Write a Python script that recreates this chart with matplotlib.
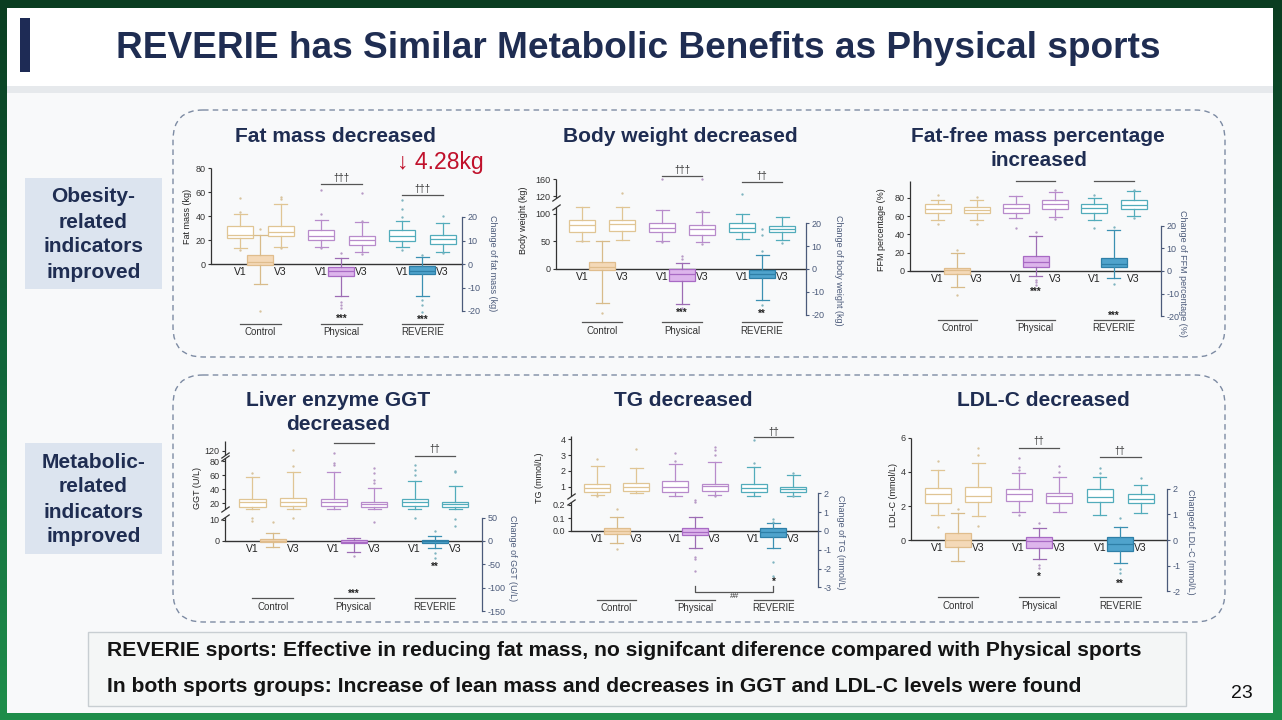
import numpy as np
import matplotlib
matplotlib.use("Agg")
import matplotlib.pyplot as plt
from matplotlib.patches import Rectangle, FancyBboxPatch
from matplotlib.colors import LinearSegmentedColormap
from matplotlib.transforms import blended_transform_factory as blend

plt.rcParams['font.family'] = ['Liberation Sans', 'DejaVu Sans']

# ---------------- data ----------------
groups = ['Control', 'Physical', 'REVERIE']
visits = ['V1', 'V3']
# box stats per group: (whisker low, Q1, median, Q3, whisker high)
fat_v1 = [(13, 22, 24, 32, 42), (14, 20, 23, 28, 37), (14, 19, 23, 28, 36)]
fat_v1_out = [[55, 43, 12], [62, 42, 13], [53, 46, 39, 12]]
fat_v3 = [(14, 23, 27, 32, 50), (10, 16, 20, 23, 35), (10, 17, 21, 24, 34)]
fat_v3_out = [[56, 54, 13], [59, 36, 8], [40, 9]]
fat_chg = [(-8.7, -0.5, 1, 3.8, 12.3), (-13.6, -5.1, -2.8, -1.1, 2.4), (-13.6, -4.4, -2.8, -0.9, 3.1)]
fat_chg_out = [[15, -20], [4.5, -16, -17.4, -18.9], [3.8, -15.3, -17.4, -20.3]]

bw_v1 = [(51, 67, 80, 89, 113), (51, 66, 74, 83, 107), (55, 66, 75, 84, 99)]
bw_v1_out = [[50], [48, 160], [125]]
bw_v3 = [(52, 68, 81, 89, 112), (49, 62, 72, 79, 103), (52, 66, 72, 78, 94)]
bw_v3_out = [[128], [46, 105, 160], [47]]
bw_chg = [(-15, -0.3, 1, 3, 12.1), (-15.3, -5.2, -2.2, 0, 2.8), (-13.8, -4.1, -2.2, -0.4, 6.2)]
bw_chg_out = [[-19.4], [4.3, 5.8, -17.2], [7.9, 14.7, 17.6, -15.6]]

ffm_v1 = [(55.3, 62.9, 67.3, 72.7, 77.8), (57.8, 63.6, 68.7, 73.5, 81.5), (56, 63.6, 68.7, 72.7, 79.6)]
ffm_v1_out = [[83, 51.6], [47.3], [82.5, 46.5]]
ffm_v3 = [(56, 63.6, 67, 70, 77), (59, 68, 72.7, 77, 86), (60, 68, 72.4, 77.8, 87)]
ffm_v3_out = [[80.7, 51], [88.7, 56.4], [88.7, 57.8]]
ffm_chg = [(-7, -1.2, 0.3, 1.5, 8), (-2.4, 1.8, 4, 6.5, 15.3), (-3.1, 1.8, 3.2, 5.9, 18)]
ffm_chg_out = [[9.4, -10.7], [17.2, -3.8, -5, -6.3], [19.4, -5.6]]

ggt_v1 = [(12, 15.3, 21.4, 25.7, 56.9), (12, 16.7, 21.9, 26, 64), (12, 16.2, 21.4, 25.7, 52)]
ggt_v1_out = [[62.5, 11, 9.5], [112, 76.7, 75], [74, 67, 60, 11]]
ggt_v3 = [(12, 16.2, 22.4, 27, 65), (12, 14.3, 18.6, 21.4, 41.3), (12, 14.8, 18.6, 21.4, 44.6)]
ggt_v3_out = [[125, 73, 11], [70.6, 63.5, 53, 49.3, 9], [66, 64, 10.3, 7.1]]
ggt_chg = [(-12.1, -1.4, 0.7, 3.6, 16.4), (-22.9, -5, -1.4, 1.4, 5.7), (-15.7, -3.6, -0.7, 1.4, 11.4)]
ggt_chg_out = [[41], [-31.4], [21.4, -26, -35.7]]

tg_v1 = [(0.47, 0.68, 0.89, 1.15, 2.33), (0.41, 0.68, 1.0, 1.38, 2.46), (0.41, 0.64, 0.89, 1.19, 2.23)]
tg_v1_out = [[2.75, 0.41], [3.1, 2.6], [3.94, 2.52]]
tg_v3 = [(0.58, 0.73, 1.0, 1.21, 2.16), (0.47, 0.73, 1.06, 1.17, 2.58), (0.41, 0.64, 0.83, 0.96, 1.74)]
tg_v3_out = [[3.39], [3.54, 3.33, 3.0, 0.41], [1.85, 0.41]]
tg_chg = [(-0.62, -0.16, 0, 0.18, 0.76), (-0.88, -0.21, -0.04, 0.18, 0.73), (-0.92, -0.34, -0.04, 0.14, 0.41)]
tg_chg_out = [[1.15, -0.97], [1.65, 1.52, -1.36, -1.49, -2.12], [0.62, 0.5, -1.63, -2.42]]

ldl_v1 = [(1.47, 2.16, 2.71, 3.08, 4.12), (1.63, 2.31, 2.71, 2.98, 3.92), (1.47, 2.25, 2.55, 3.0, 3.73)]
ldl_v1_out = [[4.65, 0.78], [4.8, 4.31, 4.12, 1.47], [4.22, 3.92]]
ldl_v3 = [(1.41, 2.22, 2.61, 3.1, 4.55), (1.63, 2.16, 2.59, 2.78, 3.69), (1.57, 2.16, 2.41, 2.71, 3.24)]
ldl_v3_out = [[5.39, 5.0, 0.82], [4.35, 3.98], [3.63]]
ldl_chg = [(-0.82, -0.26, 0, 0.29, 1.04), (-0.75, -0.32, -0.03, 0.13, 0.45), (-0.91, -0.42, -0.17, 0.13, 0.52)]
ldl_chg_out = [[1.21], [0.65, -0.97, -1.1], [0.87, -1.14, -1.3]]

# significance marks (None = no bracket, '' = bracket without text)
fat_within = [None, '†††', '†††']
fat_stars = ['', '***', '***']
bw_within = [None, '†††', '††']
bw_stars = ['', '***', '**']
ffm_within = [None, '', '']
ffm_stars = ['', '***', '***']
ggt_within = [None, '', '††']
ggt_stars = ['', '***', '**']
tg_within = [None, None, '††']
tg_stars = ['', '', '*']
ldl_within = [None, '††', '††']
ldl_stars = ['', '*', '**']

# ---------------- figure ----------------
W, H = 1282, 720
fig = plt.figure(figsize=(W / 100, H / 100), dpi=100)
R = fig.canvas.get_renderer()
bg = fig.add_axes([0, 0, 1, 1], zorder=0)
cm = LinearSegmentedColormap.from_list('g', ['#0a3d21', '#11653a', '#1f8e4b'])
bg.imshow(np.linspace(0, 1, 256)[:, None], extent=[0, W, H, 0], aspect='auto', cmap=cm, zorder=0)
bg.set_xlim(0, W)
bg.set_ylim(H, 0)
bg.axis('off')

navy = '#1f2d52'
bg.add_patch(Rectangle((7, 8), 1266, 705, fc='white', ec='none', zorder=1))
bg.add_patch(Rectangle((7, 93), 1266, 620, fc='#f8f9fa', ec='none', zorder=1))
bg.add_patch(Rectangle((7, 86), 1266, 7, fc='#e6e9ec', ec='none', zorder=1))
bg.add_patch(Rectangle((20, 18), 10, 54, fc='#1e2b55', ec='none', zorder=2))


def fit(t, width):
    w = t.get_window_extent(R).width
    t.set_fontsize(t.get_fontsize() * width / w)
    return t


fit(bg.text(638, 48, 'REVERIE has Similar Metabolic Benefits as Physical sports', ha='center', va='center',
            fontsize=20, fontweight='bold', color=navy, zorder=3), 1040)

for y0b, y1b in [(110, 357), (375, 622)]:
    bg.add_patch(FancyBboxPatch((173, y0b), 1052, y1b - y0b, boxstyle='round,pad=0,rounding_size=30',
                                fc='none', ec='#7d8ba3', lw=1, ls=(0, (4, 3)), zorder=2))

# left category boxes
for (by, lines, ys) in [(178, ['Obesity-', 'related', 'indicators', 'improved'], [197, 222, 247, 272]),
                        (443, ['Metabolic-', 'related', 'indicators', 'improved'], [462, 487, 512, 537])]:
    bg.add_patch(Rectangle((25, by), 137, 111, fc='#dce4ef', ec='none', zorder=2))
    tt = bg.text(93.5, ys[2], 'indicators', ha='center', va='center', fontsize=14, fontweight='bold',
                 color=navy, zorder=3)
    fit(tt, 100)
    fs = tt.get_fontsize()
    for s, yy in zip(lines, ys):
        if s != 'indicators':
            bg.text(93.5, yy, s, ha='center', va='center', fontsize=fs, fontweight='bold', color=navy, zorder=3)

# panel titles
for s, cx, cy, w in [('Fat mass decreased', 335.5, 136, 201), ('Body weight decreased', 680, 136, 234),
                     ('Fat-free mass percentage', 1038, 137, 254), ('increased', 1038.5, 161, 97),
                     ('Liver enzyme GGT', 338.5, 400, 185), ('decreased', 338, 424, 104),
                     ('TG decreased', 683, 400, 138), ('LDL-C decreased', 1043.5, 400, 173)]:
    fit(bg.text(cx, cy, s, ha='center', va='center', fontsize=14, fontweight='bold', color=navy, zorder=3), w)
fit(bg.text(440, 162, '↓ 4.28kg', ha='center', va='center', fontsize=15, color='#c0112b', zorder=3), 87)

# bottom text box
bg.add_patch(Rectangle((88, 632), 1098, 74, fc='#f4f6f6', ec='#c8ced2', lw=1, zorder=2))
t1 = fit(bg.text(107, 651, 'REVERIE sports: Effective in reducing fat mass, no signifcant diference compared with Physical sports',
                 ha='left', va='center', fontsize=13, fontweight='bold', color='#141414', zorder=3), 1034)
bg.text(107, 687, 'In both sports groups: Increase of lean mass and decreases in GGT and LDL-C levels were found',
        ha='left', va='center', fontsize=t1.get_fontsize(), fontweight='bold', color='#141414', zorder=3)
bg.text(1242, 694, '23', ha='center', va='center', fontsize=14, color='#111', zorder=3)

# ---------------- panels ----------------
vcol = ['#e0c594', '#b88bcb', '#52acbb']
fcol = ['#d9c39d', '#b79ac6', '#7fb4c0']
cfill = ['#f4d9b8', '#ddb5ec', '#4fa3cc']
cedge = ['#e0bd8d', '#a86ac4', '#2e7fa7']
cline = ['#d8bb8a', '#9d6cb4', '#3a90b2']
axc = '#333333'
rc = '#4b5a7a'


def pw(x, a, b):
    x = np.asarray(x, dtype=float)
    s0 = (b[1] - b[0]) / (a[1] - a[0])
    s1 = (b[-1] - b[-2]) / (a[-1] - a[-2])
    y = np.interp(x, a, b)
    y = np.where(x < a[0], b[0] + (x - a[0]) * s0, y)
    y = np.where(x > a[-1], b[-1] + (x - a[-1]) * s1, y)
    return y


def st(t, out):
    lo, q1, med, q3, hi = t
    return dict(whislo=lo, q1=q1, med=med, q3=q3, whishi=hi, fliers=np.asarray(out, float))


def draw_panel(S, v1, v1o, v3, v3o, chg, chgo, ylab, rlab, within, stars):
    xl, xr, y0, top, bot = S['xl'], S['xr'], S['y0'], S['top'], S['bottom']
    ax = fig.add_axes([xl / W, 1 - bot / H, (xr - xl) / W, (bot - top) / H], zorder=3)
    ax.patch.set_visible(False)
    d = np.asarray(S['d'], float)
    p = np.asarray(S['p'], float)
    ax.set_yscale('function', functions=(lambda x: pw(x, d, p), lambda y: pw(y, p, d)))
    ax.set_ylim(float(pw(-(bot - y0), p, d)), float(pw(y0 - top, p, d)))
    x0, dx = S['x0'], S['dx']
    ax.set_xlim(-(x0 - xl) / dx, (xr - x0) / dx)
    ax2 = ax.twinx()
    ax2.patch.set_visible(False)
    ax2.set_ylim(-(bot - y0) / S['rppu'], (y0 - top) / S['rppu'])

    def fy(py):
        return (bot - py) / (bot - top)

    bw = 26 / dx
    for g in range(3):
        col = vcol[g]
        ax.bxp([st(v1[g], v1o[g]), st(v3[g], v3o[g])], positions=[2 * g, 2 * g + 1], widths=bw,
               patch_artist=True, manage_ticks=False, capwidths=bw * 0.5,
               boxprops=dict(facecolor='white', edgecolor=col, lw=0.9),
               whiskerprops=dict(color=col, lw=0.9), capprops=dict(color=col, lw=0.9),
               medianprops=dict(color=col, lw=0.9),
               flierprops=dict(marker='o', markersize=1.7, markerfacecolor=fcol[g], markeredgecolor='none'))
        ax2.bxp([st(chg[g], chgo[g])], positions=[2 * g + 0.5], widths=bw,
                patch_artist=True, manage_ticks=False, capwidths=bw * 0.5,
                boxprops=dict(facecolor=cfill[g], edgecolor=cedge[g], lw=0.9),
                whiskerprops=dict(color=cline[g], lw=0.9), capprops=dict(color=cline[g], lw=0.9),
                medianprops=dict(color=cedge[g], lw=0.9),
                flierprops=dict(marker='o', markersize=1.7, markerfacecolor=fcol[g], markeredgecolor='none'))

    # left axis (possibly broken)
    for sp in ['left', 'top', 'right']:
        ax.spines[sp].set_visible(False)
    ax.spines['bottom'].set_position(('data', 0))
    ax.spines['bottom'].set_color(axc)
    ax.spines['bottom'].set_linewidth(1.0)
    tr = blend(ax.transAxes, ax.transData)
    segs = S['segs']
    for a, b in segs:
        ax.plot([0, 0], [a, b], transform=tr, color=axc, lw=0.9, clip_on=False, solid_capstyle='butt')
    for i in range(len(segs) - 1):
        for yv in (segs[i][1], segs[i + 1][0]):
            ax.plot([0], [yv], transform=tr, marker=[(-1, -0.7), (1, 0.7)], ms=6, color=axc, mew=0.9,
                    clip_on=False, ls='none')
    ax.set_yticks(S['lt'])
    ax.set_yticklabels(S.get('ltl') or [str(t) for t in S['lt']])
    ax.tick_params(axis='y', which='both', direction='out', length=2.5, width=0.8, colors=axc,
                   labelsize=6.5, pad=1.5)
    ax.yaxis.set_minor_locator(matplotlib.ticker.NullLocator())
    ax.set_xticks(range(6))
    ax.set_xticklabels(visits * 3)
    ax.tick_params(axis='x', length=0, labelsize=7.5, pad=2, colors='#222')

    for sp in ['left', 'top', 'bottom']:
        ax2.spines[sp].set_visible(False)
    ax2.spines['right'].set_bounds(*S['cb'])
    ax2.spines['right'].set_color(rc)
    ax2.spines['right'].set_linewidth(0.9)
    ax2.set_yticks(S['rt'])
    ax2.set_yticklabels([str(t) for t in S['rt']])
    ax2.tick_params(axis='y', direction='out', length=2.5, width=0.8, colors=rc, labelsize=6.5, pad=1.5)

    bg.text(S['ylab'][0], S['ylab'][1], ylab, rotation=90, ha='center', va='center', fontsize=6.5,
            color='#222', zorder=3)
    bg.text(S['rlab'][0], S['rlab'][1], rlab, rotation=270, ha='center', va='center', fontsize=6.5,
            color=rc, zorder=3)

    xt = ax.get_xaxis_transform()
    for g in range(3):
        ax.plot([2 * g, 2 * g + 1], [fy(S['gline'])] * 2, transform=xt, color='#555', lw=0.9, clip_on=False)
        ax.text(2 * g + 0.5, fy(S['glab']), groups[g], transform=xt, ha='center', va='center', fontsize=7,
                color='#333')
        if within[g] is not None and S['brk'][g] is not None:
            ly, ty = S['brk'][g]
            ax.plot([2 * g, 2 * g + 1], [fy(ly)] * 2, transform=xt, color='#555', lw=0.9, clip_on=False)
            if within[g]:
                ax.text(2 * g + 0.5, fy(ty), within[g], transform=xt, ha='center', va='center', fontsize=7,
                        color='#333')
        if stars[g] and S['stars'][g] is not None:
            ax.text(2 * g + 0.5, fy(S['stars'][g]), stars[g], transform=xt, ha='center', va='center',
                    fontsize=7, fontweight='bold', color='#222')
    if 'hash' in S:
        ly, ey, ty = S['hash']
        ax.plot([2.5, 2.5, 4.5, 4.5], [fy(ey), fy(ly), fy(ly), fy(ey)], transform=xt, color='#555', lw=0.9,
                clip_on=False)
        ax.text(3.5, fy(ty), '##', transform=xt, ha='center', va='center', fontsize=6, color='#333')
    return ax, ax2


specs = [
    dict(xl=211, xr=462, y0=264, top=165, bottom=314, d=[0, 80], p=[0, 96], segs=[(0, 80)],
         lt=[0, 20, 40, 60, 80], rppu=2.35, cb=(-20, 20), rt=[-20, -10, 0, 10, 20], x0=240, dx=40.5,
         ylab=(187, 216), rlab=(492, 263), gline=324, glab=332,
         brk=[None, (184, 178), (195, 189)], stars=[None, 319, 320]),
    dict(xl=556, xr=806, y0=269, top=175, bottom=316, d=[0, 113, 115.5, 162], p=[0, 62.5, 71.1, 90.5],
         segs=[(0, 113), (115.5, 162)], lt=[0, 50, 100, 120, 160], rppu=2.28, cb=(-20, 20),
         rt=[-20, -10, 0, 10, 20], x0=582, dx=40, ylab=(524, 220), rlab=(838, 270), gline=322, glab=331,
         brk=[None, (176, 170.5), (182, 176)], stars=[None, 313, 314]),
    dict(xl=910, xr=1161, y0=271, top=178, bottom=318, d=[0, 98], p=[0, 89.8], segs=[(0, 98)],
         lt=[0, 20, 40, 60, 80], rppu=2.27, cb=(-20, 20), rt=[-20, -10, 0, 10, 20], x0=937.5, dx=39.2,
         ylab=(882, 230), rlab=(1183, 273), gline=320, glab=328,
         brk=[None, (181, 175), (181, 175)], stars=[None, 292, 316]),
    dict(xl=225, xr=482, y0=541, top=440, bottom=615, d=[0, 11.5, 12, 85, 100, 170],
         p=[0, 24.2, 32.1, 83.5, 86, 100], segs=[(0, 11.5), (12, 85), (100, 170)],
         lt=[0, 10, 20, 40, 60, 80, 120], rppu=0.467, cb=(-150, 50), rt=[-150, -100, -50, 0, 50],
         x0=252.5, dx=40.5, ylab=(197, 488), rlab=(512, 558), gline=598, glab=607,
         brk=[None, (443, 437), (456, 449)], stars=[None, 594, 567]),
    dict(xl=571, xr=818, y0=531, top=435, bottom=590, d=[0, 0.22, 0.4, 4.2], p=[0, 28.6, 34.8, 94.9],
         segs=[(0, 0.22), (0.4, 4.2)], lt=[0, 0.1, 0.2, 1, 2, 3, 4],
         ltl=['0.0', '0.1', '0.2', '1', '2', '3', '4'], rppu=18.8, cb=(-3, 2), rt=[-3, -2, -1, 0, 1, 2],
         x0=597, dx=39.2, ylab=(540, 478), rlab=(840, 542), gline=600, glab=608,
         brk=[None, None, (437, 431.5)], stars=[None, None, 582], hash=(592, 586, 597)),
    dict(xl=911, xr=1167, y0=540, top=436, bottom=594, d=[0, 6], p=[0, 102], segs=[(0, 6)],
         lt=[0, 2, 4, 6], rppu=25.7, cb=(-2, 2), rt=[-2, -1, 0, 1, 2], x0=937.5, dx=40.6,
         ylab=(893, 495), rlab=(1190, 542), gline=597, glab=606,
         brk=[None, (448, 441), (457, 451)], stars=[None, 577, 584]),
]

draw_panel(specs[0], fat_v1, fat_v1_out, fat_v3, fat_v3_out, fat_chg, fat_chg_out,
           'Fat mass (kg)', 'Change of fat mass (kg)', fat_within, fat_stars)
draw_panel(specs[1], bw_v1, bw_v1_out, bw_v3, bw_v3_out, bw_chg, bw_chg_out,
           'Body weight (kg)', 'Change of body weight (kg)', bw_within, bw_stars)
draw_panel(specs[2], ffm_v1, ffm_v1_out, ffm_v3, ffm_v3_out, ffm_chg, ffm_chg_out,
           'FFM percentage (%)', 'Change of FFM percentage (%)', ffm_within, ffm_stars)
draw_panel(specs[3], ggt_v1, ggt_v1_out, ggt_v3, ggt_v3_out, ggt_chg, ggt_chg_out,
           'GGT (U/L)', 'Change of GGT (U/L)', ggt_within, ggt_stars)
draw_panel(specs[4], tg_v1, tg_v1_out, tg_v3, tg_v3_out, tg_chg, tg_chg_out,
           'TG (mmol/L)', 'Change of TG (mmol/L)', tg_within, tg_stars)
draw_panel(specs[5], ldl_v1, ldl_v1_out, ldl_v3, ldl_v3_out, ldl_chg, ldl_chg_out,
           'LDL-C (mmol/L)', 'Changeof LDL-C (mmol/L)', ldl_within, ldl_stars)

fig.savefig('out.png', dpi=100)
